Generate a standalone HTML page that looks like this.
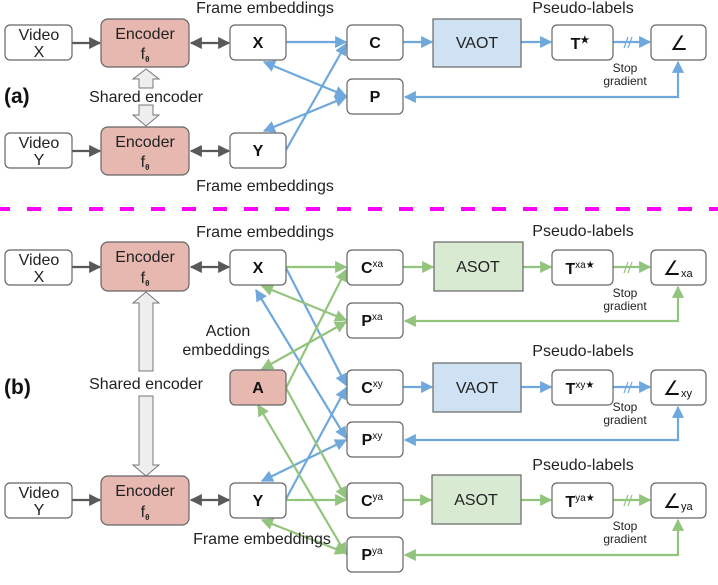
<!DOCTYPE html>
<html><head><meta charset="utf-8"><style>
html,body{margin:0;padding:0;background:#fff;width:718px;height:585px;overflow:hidden}
svg{display:block;font-family:"Liberation Sans",Arial,sans-serif}
</style></head><body>
<svg width="718" height="585" viewBox="0 0 718 585" xmlns="http://www.w3.org/2000/svg">
<defs>
<marker id="mg" viewBox="0 0 10 10" refX="9" refY="5" markerWidth="5.5" markerHeight="5.5" orient="auto-start-reverse"><path d="M0,0 L10,5 L0,10 z" fill="#595959"/></marker>
<marker id="mb" viewBox="0 0 10 10" refX="9" refY="5" markerWidth="5.5" markerHeight="5.5" orient="auto-start-reverse"><path d="M0,0 L10,5 L0,10 z" fill="#6fa8dc"/></marker>
<marker id="mn" viewBox="0 0 10 10" refX="9" refY="5" markerWidth="5.5" markerHeight="5.5" orient="auto-start-reverse"><path d="M0,0 L10,5 L0,10 z" fill="#93c47d"/></marker>
</defs>
<g stroke="#595959" stroke-width="2.2" fill="none">
<line x1="72" y1="43" x2="100" y2="43" marker-end="url(#mg)"/>
<line x1="72" y1="151" x2="100" y2="151" marker-end="url(#mg)"/>
<line x1="191" y1="43" x2="229" y2="43" marker-start="url(#mg)" marker-end="url(#mg)"/>
<line x1="191" y1="151" x2="229" y2="151" marker-start="url(#mg)" marker-end="url(#mg)"/>
<line x1="72" y1="267" x2="100" y2="267" marker-end="url(#mg)"/>
<line x1="72" y1="500" x2="100" y2="500" marker-end="url(#mg)"/>
<line x1="191" y1="267" x2="229" y2="267" marker-start="url(#mg)" marker-end="url(#mg)"/>
<line x1="191" y1="500" x2="229" y2="500" marker-start="url(#mg)" marker-end="url(#mg)"/>
</g>
<g stroke="#6fa8dc" stroke-width="2.2" fill="none">
<line x1="286" y1="42" x2="346" y2="42" marker-end="url(#mb)"/>
<line x1="264" y1="62" x2="346" y2="96" marker-start="url(#mb)" marker-end="url(#mb)"/>
<line x1="264" y1="131" x2="346" y2="97" marker-start="url(#mb)" marker-end="url(#mb)"/>
<line x1="286" y1="150" x2="346" y2="44" marker-end="url(#mb)"/>
<line x1="403" y1="42" x2="432" y2="42" marker-end="url(#mb)"/>
<line x1="521" y1="42" x2="551" y2="42" marker-end="url(#mb)"/>
<line x1="613" y1="42" x2="650" y2="42" marker-end="url(#mb)"/>
<polyline points="678,62 678,97 405,97" marker-start="url(#mb)" marker-end="url(#mb)"/>
</g>
<g stroke="#6fa8dc" stroke-width="1.2"><line x1="624" y1="48" x2="628" y2="37"/><line x1="628" y1="48" x2="632" y2="37"/></g>
<g stroke="#6fa8dc" stroke-width="2.2" fill="none">
<line x1="286" y1="268" x2="346" y2="385" marker-end="url(#mb)"/>
<line x1="256" y1="290" x2="346" y2="438" marker-start="url(#mb)" marker-end="url(#mb)"/>
<line x1="262" y1="481" x2="346" y2="440" marker-start="url(#mb)" marker-end="url(#mb)"/>
<line x1="286" y1="499" x2="346" y2="388" marker-end="url(#mb)"/>
<line x1="403" y1="387" x2="432" y2="387" marker-end="url(#mb)"/>
<line x1="521" y1="387" x2="551" y2="387" marker-end="url(#mb)"/>
<line x1="613" y1="387" x2="650" y2="387" marker-end="url(#mb)"/>
<polyline points="678,407 678,440 405,440" marker-start="url(#mb)" marker-end="url(#mb)"/>
</g>
<g stroke="#6fa8dc" stroke-width="1.2"><line x1="624" y1="393" x2="628" y2="382"/><line x1="628" y1="393" x2="632" y2="382"/></g>
<g stroke="#93c47d" stroke-width="2.2" fill="none">
<line x1="286" y1="267" x2="346" y2="267" marker-end="url(#mn)"/>
<line x1="262" y1="286" x2="346" y2="320" marker-start="url(#mn)" marker-end="url(#mn)"/>
<line x1="286" y1="388" x2="346" y2="270" marker-end="url(#mn)"/>
<line x1="262" y1="369" x2="346" y2="322" marker-start="url(#mn)" marker-end="url(#mn)"/>
<line x1="286" y1="388" x2="346" y2="498" marker-end="url(#mn)"/>
<line x1="258" y1="405" x2="346" y2="554" marker-start="url(#mn)" marker-end="url(#mn)"/>
<line x1="286" y1="500" x2="346" y2="500" marker-end="url(#mn)"/>
<line x1="262" y1="520" x2="346" y2="553" marker-start="url(#mn)" marker-end="url(#mn)"/>
<line x1="403" y1="267" x2="433" y2="267" marker-end="url(#mn)"/>
<line x1="523" y1="267" x2="551" y2="267" marker-end="url(#mn)"/>
<line x1="613" y1="267" x2="650" y2="267" marker-end="url(#mn)"/>
<polyline points="678,287 678,321 405,321" marker-start="url(#mn)" marker-end="url(#mn)"/>
<line x1="403" y1="500" x2="431" y2="500" marker-end="url(#mn)"/>
<line x1="521" y1="500" x2="551" y2="500" marker-end="url(#mn)"/>
<line x1="613" y1="500" x2="650" y2="500" marker-end="url(#mn)"/>
<polyline points="678,520 678,555 405,555" marker-start="url(#mn)" marker-end="url(#mn)"/>
</g>
<g stroke="#93c47d" stroke-width="1.2"><line x1="624" y1="273" x2="628" y2="262"/><line x1="628" y1="273" x2="632" y2="262"/><line x1="624" y1="506" x2="628" y2="495"/><line x1="628" y1="506" x2="632" y2="495"/></g>

<g fill="#eeeeee" stroke="#777" stroke-width="1">
<path d="M139,88 L139,79 L133,79 L146,69 L159,79 L153,79 L153,88 Z"/>
<path d="M139,105 L139,115 L133,115 L146,126 L159,115 L153,115 L153,105 Z"/>
<path d="M139,371 L139,303 L133,303 L146,292 L159,303 L153,303 L153,371 Z"/>
<path d="M139,396 L139,465 L133,465 L146,476 L159,465 L153,465 L153,396 Z"/>
</g>

<g stroke="#666" stroke-width="1.2">
<rect x="5" y="25" width="67" height="35" rx="5" fill="#fff"/>
<rect x="5" y="133" width="67" height="35" rx="5" fill="#fff"/>
<rect x="101" y="19" width="88" height="48" rx="7" fill="#e6b8af"/>
<rect x="101" y="127" width="88" height="48" rx="7" fill="#e6b8af"/>
<rect x="230" y="25" width="56" height="35" rx="5" fill="#fff"/>
<rect x="230" y="133" width="56" height="35" rx="5" fill="#fff"/>
<rect x="347" y="25" width="56" height="35" rx="5" fill="#fff"/>
<rect x="347" y="79" width="56" height="35" rx="5" fill="#fff"/>
<rect x="433" y="19" width="88" height="48" fill="#cfe2f3"/>
<rect x="552" y="25" width="61" height="35" rx="5" fill="#fff"/>
<rect x="651" y="25" width="55" height="35" rx="5" fill="#fff"/>

<rect x="5" y="250" width="67" height="35" rx="5" fill="#fff"/>
<rect x="5" y="483" width="67" height="35" rx="5" fill="#fff"/>
<rect x="101" y="242" width="88" height="49" rx="7" fill="#e6b8af"/>
<rect x="101" y="476" width="88" height="49" rx="7" fill="#e6b8af"/>
<rect x="230" y="250" width="56" height="35" rx="5" fill="#fff"/>
<rect x="230" y="370" width="56" height="35" rx="5" fill="#e6b8af"/>
<rect x="230" y="483" width="56" height="35" rx="5" fill="#fff"/>
<rect x="347" y="250" width="56" height="35" rx="5" fill="#fff"/>
<rect x="347" y="303" width="56" height="35" rx="5" fill="#fff"/>
<rect x="347" y="370" width="56" height="35" rx="5" fill="#fff"/>
<rect x="347" y="422" width="56" height="35" rx="5" fill="#fff"/>
<rect x="347" y="483" width="56" height="35" rx="5" fill="#fff"/>
<rect x="347" y="537" width="56" height="35" rx="5" fill="#fff"/>
<rect x="434" y="242" width="89" height="49" fill="#d9ead3"/>
<rect x="433" y="363" width="88" height="49" fill="#cfe2f3"/>
<rect x="432" y="475" width="89" height="49" fill="#d9ead3"/>
<rect x="552" y="250" width="61" height="35" rx="5" fill="#fff"/>
<rect x="552" y="370" width="61" height="35" rx="5" fill="#fff"/>
<rect x="552" y="483" width="61" height="35" rx="5" fill="#fff"/>
<rect x="651" y="250" width="55" height="35" rx="5" fill="#fff"/>
<rect x="651" y="370" width="55" height="35" rx="5" fill="#fff"/>
<rect x="651" y="483" width="55" height="35" rx="5" fill="#fff"/>
</g>

<line x1="0" y1="209" x2="718" y2="209" stroke="#ff00ff" stroke-width="4" stroke-dasharray="14,17" stroke-dashoffset="4"/>

<g fill="#222" font-size="16" text-anchor="middle">
<text x="39" y="40">Video</text><text x="39" y="57">X</text>
<text x="39" y="148">Video</text><text x="39" y="165">Y</text>
<text x="145" y="39">Encoder</text><text x="145" y="59">f<tspan font-size="8" font-weight="bold" dy="3">θ</tspan></text>
<text x="145" y="147">Encoder</text><text x="145" y="167">f<tspan font-size="8" font-weight="bold" dy="3">θ</tspan></text>
<text x="265" y="13">Frame embeddings</text>
<text x="265" y="191">Frame embeddings</text>
<text x="146" y="102">Shared encoder</text>
<text x="583" y="13">Pseudo-labels</text>
<text x="477" y="48">VAOT</text>

<text x="39" y="265">Video</text><text x="39" y="282">X</text>
<text x="39" y="498">Video</text><text x="39" y="515">Y</text>
<text x="145" y="262">Encoder</text><text x="145" y="283">f<tspan font-size="8" font-weight="bold" dy="3">θ</tspan></text>
<text x="145" y="496">Encoder</text><text x="145" y="517">f<tspan font-size="8" font-weight="bold" dy="3">θ</tspan></text>
<text x="265" y="237">Frame embeddings</text>
<text x="262" y="544">Frame embeddings</text>
<text x="146" y="389">Shared encoder</text>
<text x="228" y="336">Action</text>
<text x="226" y="355">embeddings</text>
<text x="583" y="236">Pseudo-labels</text>
<text x="583" y="356">Pseudo-labels</text>
<text x="583" y="470">Pseudo-labels</text>
<text x="478" y="272">ASOT</text>
<text x="477" y="393">VAOT</text>
<text x="476" y="505">ASOT</text>
</g>
<g fill="#222" font-size="12" text-anchor="middle">
<text x="625" y="72">Stop</text><text x="625" y="85">gradient</text>
<text x="625" y="297">Stop</text><text x="625" y="310">gradient</text>
<text x="625" y="411">Stop</text><text x="625" y="424">gradient</text>
<text x="625" y="530">Stop</text><text x="625" y="543">gradient</text>
</g>
<g fill="#111" font-size="16" font-weight="bold" text-anchor="middle">
<text x="258" y="48">X</text><text x="258" y="156">Y</text>
<text x="375" y="48">C</text><text x="375" y="102">P</text>
<text x="580" y="49">T<tspan font-size="10" dy="-6">★</tspan></text>
<text x="258" y="273">X</text><text x="258" y="393">A</text><text x="258" y="506">Y</text>
<text x="372" y="273">C<tspan font-size="10" font-weight="normal" dy="-6">xa</tspan></text>
<text x="372" y="326">P<tspan font-size="10" font-weight="normal" dy="-6">xa</tspan></text>
<text x="372" y="393">C<tspan font-size="10" font-weight="normal" dy="-6">xy</tspan></text>
<text x="372" y="445">P<tspan font-size="10" font-weight="normal" dy="-6">xy</tspan></text>
<text x="372" y="506">C<tspan font-size="10" font-weight="normal" dy="-6">ya</tspan></text>
<text x="372" y="560">P<tspan font-size="10" font-weight="normal" dy="-6">ya</tspan></text>
<text x="580" y="274">T<tspan font-size="10" font-weight="normal" dy="-6">xa</tspan><tspan font-size="10" font-weight="normal">★</tspan></text>
<text x="580" y="394">T<tspan font-size="10" font-weight="normal" dy="-6">xy</tspan><tspan font-size="10" font-weight="normal">★</tspan></text>
<text x="580" y="507">T<tspan font-size="10" font-weight="normal" dy="-6">ya</tspan><tspan font-size="10" font-weight="normal">★</tspan></text>
</g>
<g fill="#111" font-size="20">
<text x="670" y="50">∠</text>
<text x="663" y="275">∠<tspan font-size="11" dy="2">xa</tspan></text>
<text x="663" y="395">∠<tspan font-size="11" dy="2">xy</tspan></text>
<text x="663" y="508">∠<tspan font-size="11" dy="2">ya</tspan></text>
</g>
<g fill="#111" font-size="21" font-weight="bold">
<text x="4" y="103">(a)</text>
<text x="4" y="394">(b)</text>
</g>
</svg>
</body></html>
